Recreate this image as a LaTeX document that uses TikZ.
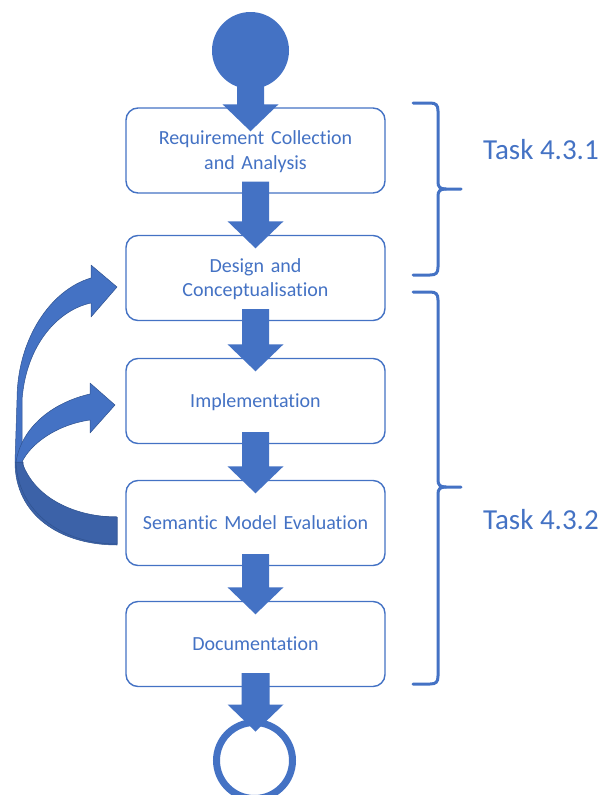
\documentclass[tikz,border=0pt]{standalone}
\usepackage{fontspec}
\setmainfont{Carlito}[Ligatures=NoCommon]
\usetikzlibrary{calc}
\definecolor{accent}{RGB}{68,114,196}
\definecolor{accentdark}{RGB}{60,98,168}
\definecolor{accentedge}{RGB}{47,82,143}

% block arrow from the bottom of one node into the top of the next
\newcommand\blockarrow[2]{%
  \fill[accent] let \p1=(#1.south), \p2=(#2.north) in
    (\x1-13.5pt,\y1+12pt) -- (\x1+13.5pt,\y1+12pt) -- (\x1+13.5pt,\y2+13.5pt)
    -- (\x1+28pt,\y2+13.5pt) -- (\x1,\y2-13.5pt) -- (\x1-28pt,\y2+13.5pt)
    -- (\x1-13.5pt,\y2+13.5pt) -- cycle;}

\begin{document}
\begin{tikzpicture}[x=1pt,y=-1pt,
  stage/.style={draw=accent, line width=1.4pt, rounded corners=12pt, fill=white,
    minimum width=259pt, minimum height=85pt, text width=250pt, align=center,
    inner sep=0pt, text depth=0pt, text=accent, font=\fontsize{20}{24.5}\selectfont},
  twoline/.style={text depth=25pt},
  brace/.style={draw=accent, line width=3pt, line cap=round},
  tasklabel/.style={anchor=west, inner sep=0pt, text=accent, font=\fontsize{29}{35}\selectfont},
  curvelight/.style={fill=accent, draw=accentedge, line width=0.5pt, line join=round},
  curvedark/.style={fill=accentdark, draw=accentedge, line width=0.5pt, line join=round}]

\useasboundingbox (0,0) rectangle (607,795);
\clip (0,0) rectangle (607,795);

% process stages
\node[stage,twoline] (req)  at (255.5,150.5) {Requirement Collection\\and Analysis};
\node[stage,twoline] (des)  at (255.5,278.0) {Design and\\Conceptualisation};
\node[stage] (impl) at (255.5,401.0) {Implementation};
\node[stage] (eval) at (255.5,523.0) {Semantic Model Evaluation};
\node[stage] (doc)  at (255.5,644.0) {Documentation};

% start and end markers
\node[circle, fill=accent, minimum size=77pt, inner sep=0pt] (start) at (250.5,50.5) {};
\node[circle, draw=accent, line width=7pt, minimum size=76pt, inner sep=0pt] (stop) at (254.5,760.5) {};

% flow arrows
\fill[accent] let \p1=(start.center), \p2=(req.north) in
  (\x1-13.5pt,\y1) -- (\x1+13.5pt,\y1) -- (\x1+13.5pt,\y2+3pt) -- (\x1+28pt,\y2+3pt)
  -- (\x1,\y2-24pt) -- (\x1-28pt,\y2+3pt) -- (\x1-13.5pt,\y2+3pt) -- cycle;
\blockarrow{req}{des}
\blockarrow{des}{impl}
\blockarrow{impl}{eval}
\blockarrow{eval}{doc}
\fill[accent] let \p1=(doc.south), \p2=(stop.north) in
  (\x1-14pt,\y1+14pt) -- (\x1+14pt,\y1+14pt) -- (\x1+14pt,\y2+14.5pt) -- (\x1+28pt,\y2+14.5pt)
  -- (\x1,\y2-12.5pt) -- (\x1-28pt,\y2+14.5pt) -- (\x1-14pt,\y2+14.5pt) -- cycle;

% feedback arrows from the evaluation stage (tail bands)
\filldraw[curvedark] (15,462) .. controls (15,515) and (60,545) .. (117,545)
  -- (117,517) .. controls (70,517) and (24,500) .. (23,462) -- cycle;
\filldraw[curvedark] (16,462) .. controls (18,512) and (62,544) .. (117,544)
  -- (117,517) .. controls (78,517) and (35,500) .. (22,462) -- cycle;
% back to design
\filldraw[curvelight] (91,278) -- (91,265) -- (117,287) -- (91,317) -- (91,303)
  .. controls (58,310) and (26,345) .. (22,400) -- (22,462) -- (15,462) -- (17,400)
  .. controls (17,340) and (50,290) .. (91,278) -- cycle;
% back to implementation
\filldraw[curvelight] (90,394) -- (90,383) -- (115,405) -- (90,433) -- (90,420)
  .. controls (55,425) and (30,445) .. (22,462) -- (16,462)
  .. controls (22,425) and (55,402) .. (90,394) -- cycle;

% task braces
\draw[brace] (413,103) -- (430,103) .. controls (436,103) and (438,105) .. (438,111)
  -- (438,182) .. controls (438,187) and (440,189) .. (446,189) -- (461,189);
\draw[brace] (446,189) .. controls (440,189) and (438,191) .. (438,196)
  -- (438,267) .. controls (438,273) and (436,275) .. (430,275) -- (413,275);
\draw[brace] (413,292) -- (430,292) .. controls (436,292) and (438,294) .. (438,300)
  -- (438,480) .. controls (438,485) and (440,487) .. (446,487) -- (461,487);
\draw[brace] (446,487) .. controls (440,487) and (438,489) .. (438,494)
  -- (438,676) .. controls (438,682) and (436,684) .. (430,684) -- (413,684);

\node[tasklabel] (task1) at (483,150) {Task 4.3.1};
\node[tasklabel] (task2) at (483,519.5) {Task 4.3.2};
\end{tikzpicture}
\end{document}
